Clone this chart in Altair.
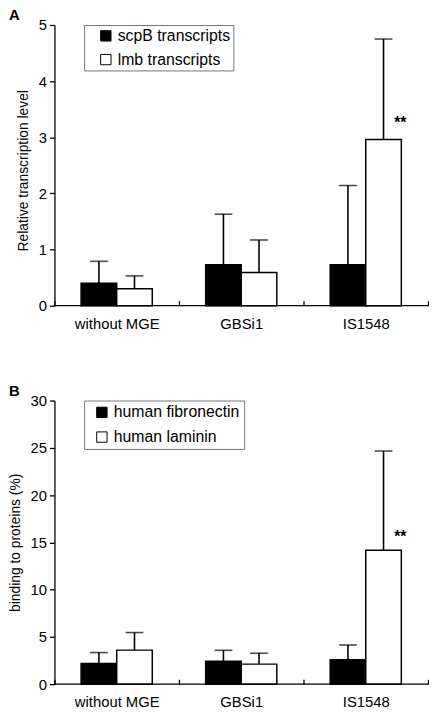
import altair as alt
import pandas as pd

FONT = "Liberation Sans"

groups = ["without MGE", "GBSi1", "IS1548"]

# Panel A
series_a = ["scpB transcripts", "lmb transcripts"]
scpb_mean = [0.40, 0.73, 0.73]
scpb_err = [0.39, 0.90, 1.41]
lmb_mean = [0.30, 0.59, 2.96]
lmb_err = [0.23, 0.58, 1.79]
star_a_group = ["IS1548"]
star_a_series = ["lmb transcripts"]
star_a_y = [3.33]

# Panel B
series_b = ["human fibronectin", "human laminin"]
fib_mean = [2.19, 2.43, 2.57]
fib_err = [1.15, 1.15, 1.57]
lam_mean = [3.60, 2.12, 14.17]
lam_err = [1.86, 1.15, 10.49]
star_b_group = ["IS1548"]
star_b_series = ["human laminin"]
star_b_y = [16.0]


def make_df(series, means, errs):
    rows = []
    for s, m, e in zip(series, means, errs):
        for g, mv, ev in zip(groups, m, e):
            rows.append({"group": g, "series": s, "mean": mv, "hi": mv + ev})
    return pd.DataFrame(rows)


def panel(df, series, ytitle, ymax, ystep, label, star_df, height,
          leg_pad, leg_row_pad, leg_sym_off, title_pad, title_shift):
    x_enc = alt.X("group:N", sort=groups, title=None,
                  scale=alt.Scale(paddingInner=0, paddingOuter=0),
                  axis=alt.Axis(domain=False, tickBand="extent", tickSize=5,
                                offset=-5, labelPadding=11, labelAngle=0,
                                tickColor="black", tickWidth=1.3,
                                labelFontSize=15, labelColor="black"))
    xo_enc = alt.XOffset("series:N", sort=series,
                         scale=alt.Scale(paddingInner=0, paddingOuter=0.75))
    y_scale = alt.Scale(domain=[0, ymax], nice=False)
    y_axis = alt.Axis(values=list(range(0, ymax + 1, ystep)), grid=False,
                      format="d",
                      tickSize=5, labelPadding=3, titlePadding=title_pad,
                      titleY=height / 2 + title_shift,
                      domainColor="black", domainWidth=1.3,
                      tickColor="black", tickWidth=1.3,
                      labelFontSize=15, labelColor="black",
                      titleFontSize=14, titleFontWeight="normal",
                      titleColor="black")

    bars = alt.Chart(df).mark_bar(stroke="black", strokeWidth=1.5).encode(
        x=x_enc, xOffset=xo_enc,
        y=alt.Y("mean:Q", scale=y_scale, axis=y_axis, title=ytitle),
        fill=alt.Fill("series:N", sort=series,
                      scale=alt.Scale(domain=series, range=["black", "white"]),
                      legend=alt.Legend(title=None, orient="none",
                                        legendX=30, legendY=0,
                                        padding=leg_pad,
                                        rowPadding=leg_row_pad,
                                        symbolOffset=leg_sym_off,
                                        labelOffset=4, symbolSize=110,
                                        symbolType="square",
                                        symbolStrokeColor="black",
                                        symbolStrokeWidth=1,
                                        labelFontSize=16, labelColor="black",
                                        strokeColor="#777777",
                                        fillColor="white")),
    )
    rules = alt.Chart(df).mark_rule(color="black", strokeWidth=1.6).encode(
        x=x_enc, xOffset=xo_enc, y="mean:Q", y2="hi:Q")
    caps = alt.Chart(df).mark_tick(color="black", size=18, thickness=1.6,
                                   orient="horizontal").encode(
        x=x_enc, xOffset=xo_enc, y="hi:Q")
    base = alt.Chart(pd.DataFrame({"v": [0]})).mark_rule(
        color="black", strokeWidth=1.3).encode(y=alt.datum(0))
    stars = alt.Chart(star_df).mark_text(
        dx=17, dy=4, fontSize=16, fontWeight="bold", color="black").encode(
        x=x_enc, xOffset=xo_enc, y="y:Q", text="t:N")
    lab = alt.Chart(pd.DataFrame({"t": [label]})).mark_text(
        align="left", baseline="alphabetic", fontSize=15, fontWeight="bold",
        color="black").encode(text="t:N", x=alt.value(-46), y=alt.value(-5))

    return alt.layer(bars, rules, caps, base, stars, lab).properties(
        width=378, height=height)


df_a = make_df(series_a, [scpb_mean, lmb_mean], [scpb_err, lmb_err])
df_b = make_df(series_b, [fib_mean, lam_mean], [fib_err, lam_err])
star_a = pd.DataFrame({"group": star_a_group, "series": star_a_series,
                       "y": star_a_y, "t": ["**"]})
star_b = pd.DataFrame({"group": star_b_group, "series": star_b_series,
                       "y": star_b_y, "t": ["**"]})

pa = panel(df_a, series_a, "Relative transcription level", 5, 1, "A",
           star_a, 284, 3, 8, 11, 8, 5)
pb = panel(df_b, series_b, "binding to proteins (%)", 30, 5, "B",
           star_b, 287, 4, 9, 6, 8, 0)

chart = alt.vconcat(pa, pb, spacing=53).resolve_scale(
    fill="independent", xOffset="independent", y="independent"
).resolve_legend(fill="independent").properties(
    padding={"left": 0, "top": -4, "right": 0, "bottom": 0}
).configure(font=FONT).configure_view(stroke=None)

chart.save("out.html", embed_options={"renderer": "svg", "actions": False})
